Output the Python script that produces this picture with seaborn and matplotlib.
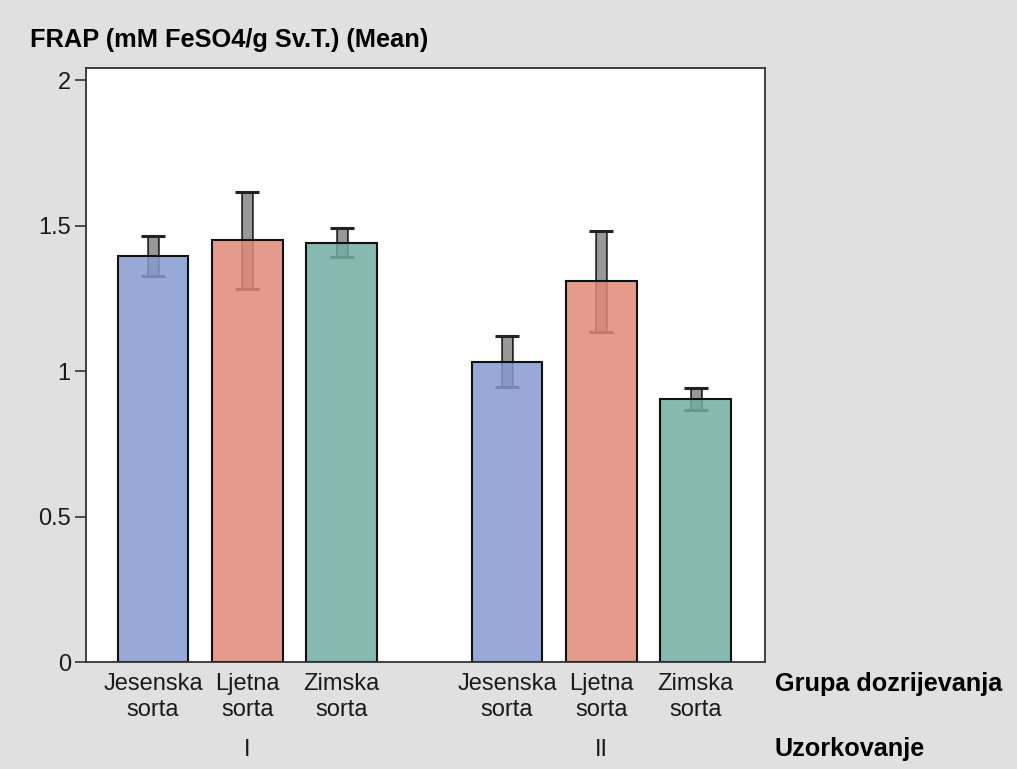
import matplotlib
matplotlib.use('Agg')
import matplotlib.pyplot as plt
import matplotlib.patheffects as pe
from matplotlib.colors import to_rgba
import seaborn as sns
import pandas as pd

# data
sampling = ['I', 'I', 'I', 'II', 'II', 'II']
ripening = ['Jesenska sorta', 'Ljetna sorta', 'Zimska sorta',
            'Jesenska sorta', 'Ljetna sorta', 'Zimska sorta']
frap_mean = [1.395, 1.450, 1.441, 1.032, 1.308, 0.905]
frap_err = [0.068, 0.167, 0.050, 0.087, 0.173, 0.038]
group_order = ['Jesenska sorta', 'Ljetna sorta', 'Zimska sorta']
sampling_order = ['I', 'II']
bar_colors = ['#859acf', '#e28878', '#71aea3']
y_ticks = [0, 0.5, 1, 1.5, 2]
y_tick_labels = ['0', '0.5', '1', '1.5', '2']

df = pd.DataFrame({'Uzorkovanje': sampling, 'Grupa': ripening,
                   'FRAP': frap_mean, 'err': frap_err})

sns.set_style('white')
plt.rcParams['font.family'] = ['Liberation Sans', 'DejaVu Sans']

fig = plt.figure(figsize=(10.17, 7.69), dpi=100, facecolor='#e0e0e0')
ax = fig.add_axes([0.0846, 0.139, 0.6676, 0.7724])
ax.set_facecolor('white')

sns.barplot(data=df, x='Uzorkovanje', y='FRAP', hue='Grupa',
            order=sampling_order, hue_order=group_order,
            palette=bar_colors, errorbar=None, width=0.8, gap=0.25,
            edgecolor='black', linewidth=1.5, legend=False,
            zorder=2, ax=ax)

# error bars behind the semi-transparent bars
centers, labels = [], []
for grp, col, container in zip(group_order, bar_colors, ax.containers):
    for samp, bar in zip(sampling_order, container):
        bar.set_facecolor(to_rgba(col, 0.85))
        bar.set_edgecolor('#111111')
        row = df[(df['Grupa'] == grp) & (df['Uzorkovanje'] == samp)].iloc[0]
        cx = bar.get_x() + bar.get_width() / 2
        centers.append(cx)
        labels.append(grp.replace(' ', '\n'))
        eb = ax.errorbar(cx, row['FRAP'], yerr=row['err'], fmt='none',
                         ecolor='#999999', elinewidth=6.5, capsize=8.5,
                         capthick=2.2, zorder=1)
        for cap in eb[1]:
            cap.set_markeredgecolor('#222222')
        for lc in eb[2]:
            lc.set_path_effects([pe.withStroke(linewidth=9, foreground='#222222')])

order = sorted(range(len(centers)), key=lambda i: centers[i])
ax.set_xticks([centers[i] for i in order])
ax.set_xticklabels([labels[i] for i in order], fontsize=17,
                   color='#1a1a1a', linespacing=1.2)
ax.tick_params(axis='x', length=0, pad=8)

ax.set_xlim(-0.456, 1.462)
ax.set_ylim(0, 2.041)
ax.set_yticks(y_ticks)
ax.set_yticklabels(y_tick_labels, fontsize=17, color='#1a1a1a')
ax.tick_params(axis='y', length=8, width=1.2, color='#333333', pad=3, left=True)
ax.set_xlabel('')
ax.set_ylabel('')
for s in ax.spines.values():
    s.set_color('#333333')
    s.set_linewidth(1.3)

# sampling labels under the groups
for i, samp in enumerate(sampling_order):
    ax.text(i, -0.148, samp, transform=ax.get_xaxis_transform(), ha='center',
            va='center', fontsize=17, color='#1a1a1a')

fig.text(30 / 1017, 1 - 40 / 769, 'FRAP (mM FeSO4/g Sv.T.) (Mean)',
         fontsize=18.3, fontweight='bold', va='center', ha='left', color='black')
fig.text(775 / 1017, 1 - 684 / 769, 'Grupa dozrijevanja',
         fontsize=18.2, fontweight='bold', va='center', ha='left', color='black')
fig.text(775 / 1017, 1 - 749 / 769, 'Uzorkovanje',
         fontsize=18.2, fontweight='bold', va='center', ha='left', color='black')

fig.savefig('out.png', dpi=100, facecolor=fig.get_facecolor())
